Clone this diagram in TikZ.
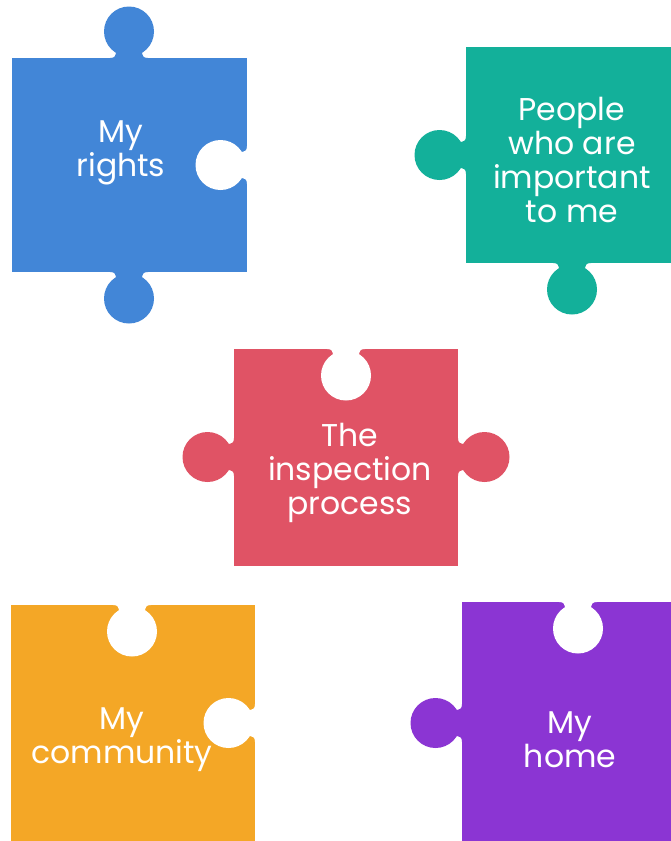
\documentclass[tikz,border=0pt]{standalone}
\usepackage{fontspec}
\setmainfont{Poppins}
\definecolor{pblue}{RGB}{66,134,215}
\definecolor{pteal}{RGB}{19,176,154}
\definecolor{pred}{RGB}{224,83,101}
\definecolor{porange}{RGB}{244,167,38}
\definecolor{ppurple}{RGB}{139,53,211}
\tikzset{
  tabshape/.pic={
    \fill[pic actions] (-19,2) -- (-19,0) .. controls (-14,0) and (-13,-2) .. (-13,-8) -- (13,-8) .. controls (13,-2) and (14,0) .. (19,0) -- (19,2) -- cycle;
    \fill[pic actions] (0,-26.5) circle (25);
  },
  txt/.style={text=white, align=center, inner sep=0pt, font=\fontsize{31.5}{34}\selectfont},
}
\begin{document}
\begin{tikzpicture}[x=1pt,y=-1pt]
\useasboundingbox (0,0) rectangle (671,841);
\fill[white] (0,0) rectangle (671,841);
% blue piece
\fill[pblue] (12,58) rectangle (247,272);
\pic[fill=pblue] at (129,58) {tabshape};
\pic[fill=pblue, rotate=180] at (129,272) {tabshape};
\pic[fill=white, rotate=90] at (247,165) {tabshape};
% teal piece
\fill[pteal] (466,47) rectangle (671,263);
\pic[fill=pteal, rotate=90] at (466,155) {tabshape};
\pic[fill=pteal, rotate=180] at (572,263) {tabshape};
% red piece
\fill[pred] (234,349) rectangle (458,566);
\pic[fill=pred, rotate=90] at (234,457) {tabshape};
\pic[fill=pred, rotate=-90] at (458,457) {tabshape};
\pic[fill=white, rotate=180] at (346,349) {tabshape};
% orange piece
\fill[porange] (11,605) rectangle (255,841);
\pic[fill=white, rotate=180] at (132,605) {tabshape};
\pic[fill=white, rotate=90] at (255,723) {tabshape};
% purple piece
\fill[ppurple] (462,602) rectangle (671,841);
\pic[fill=ppurple, rotate=90] at (462,723) {tabshape};
\pic[fill=white, rotate=180] at (578,602) {tabshape};
% texts
\node[txt] (rights) at (121,153) {My\\rights};
\node[txt] (people) at (572,160) {People\\who are\\important\\to me};
\node[txt] (inspect) at (350,473) {The\\inspection\\process};
\node[txt] (community) at (122,740) {My\\community};
\node[txt] (home) at (570,740) {My\\home};
\end{tikzpicture}
\end{document}
